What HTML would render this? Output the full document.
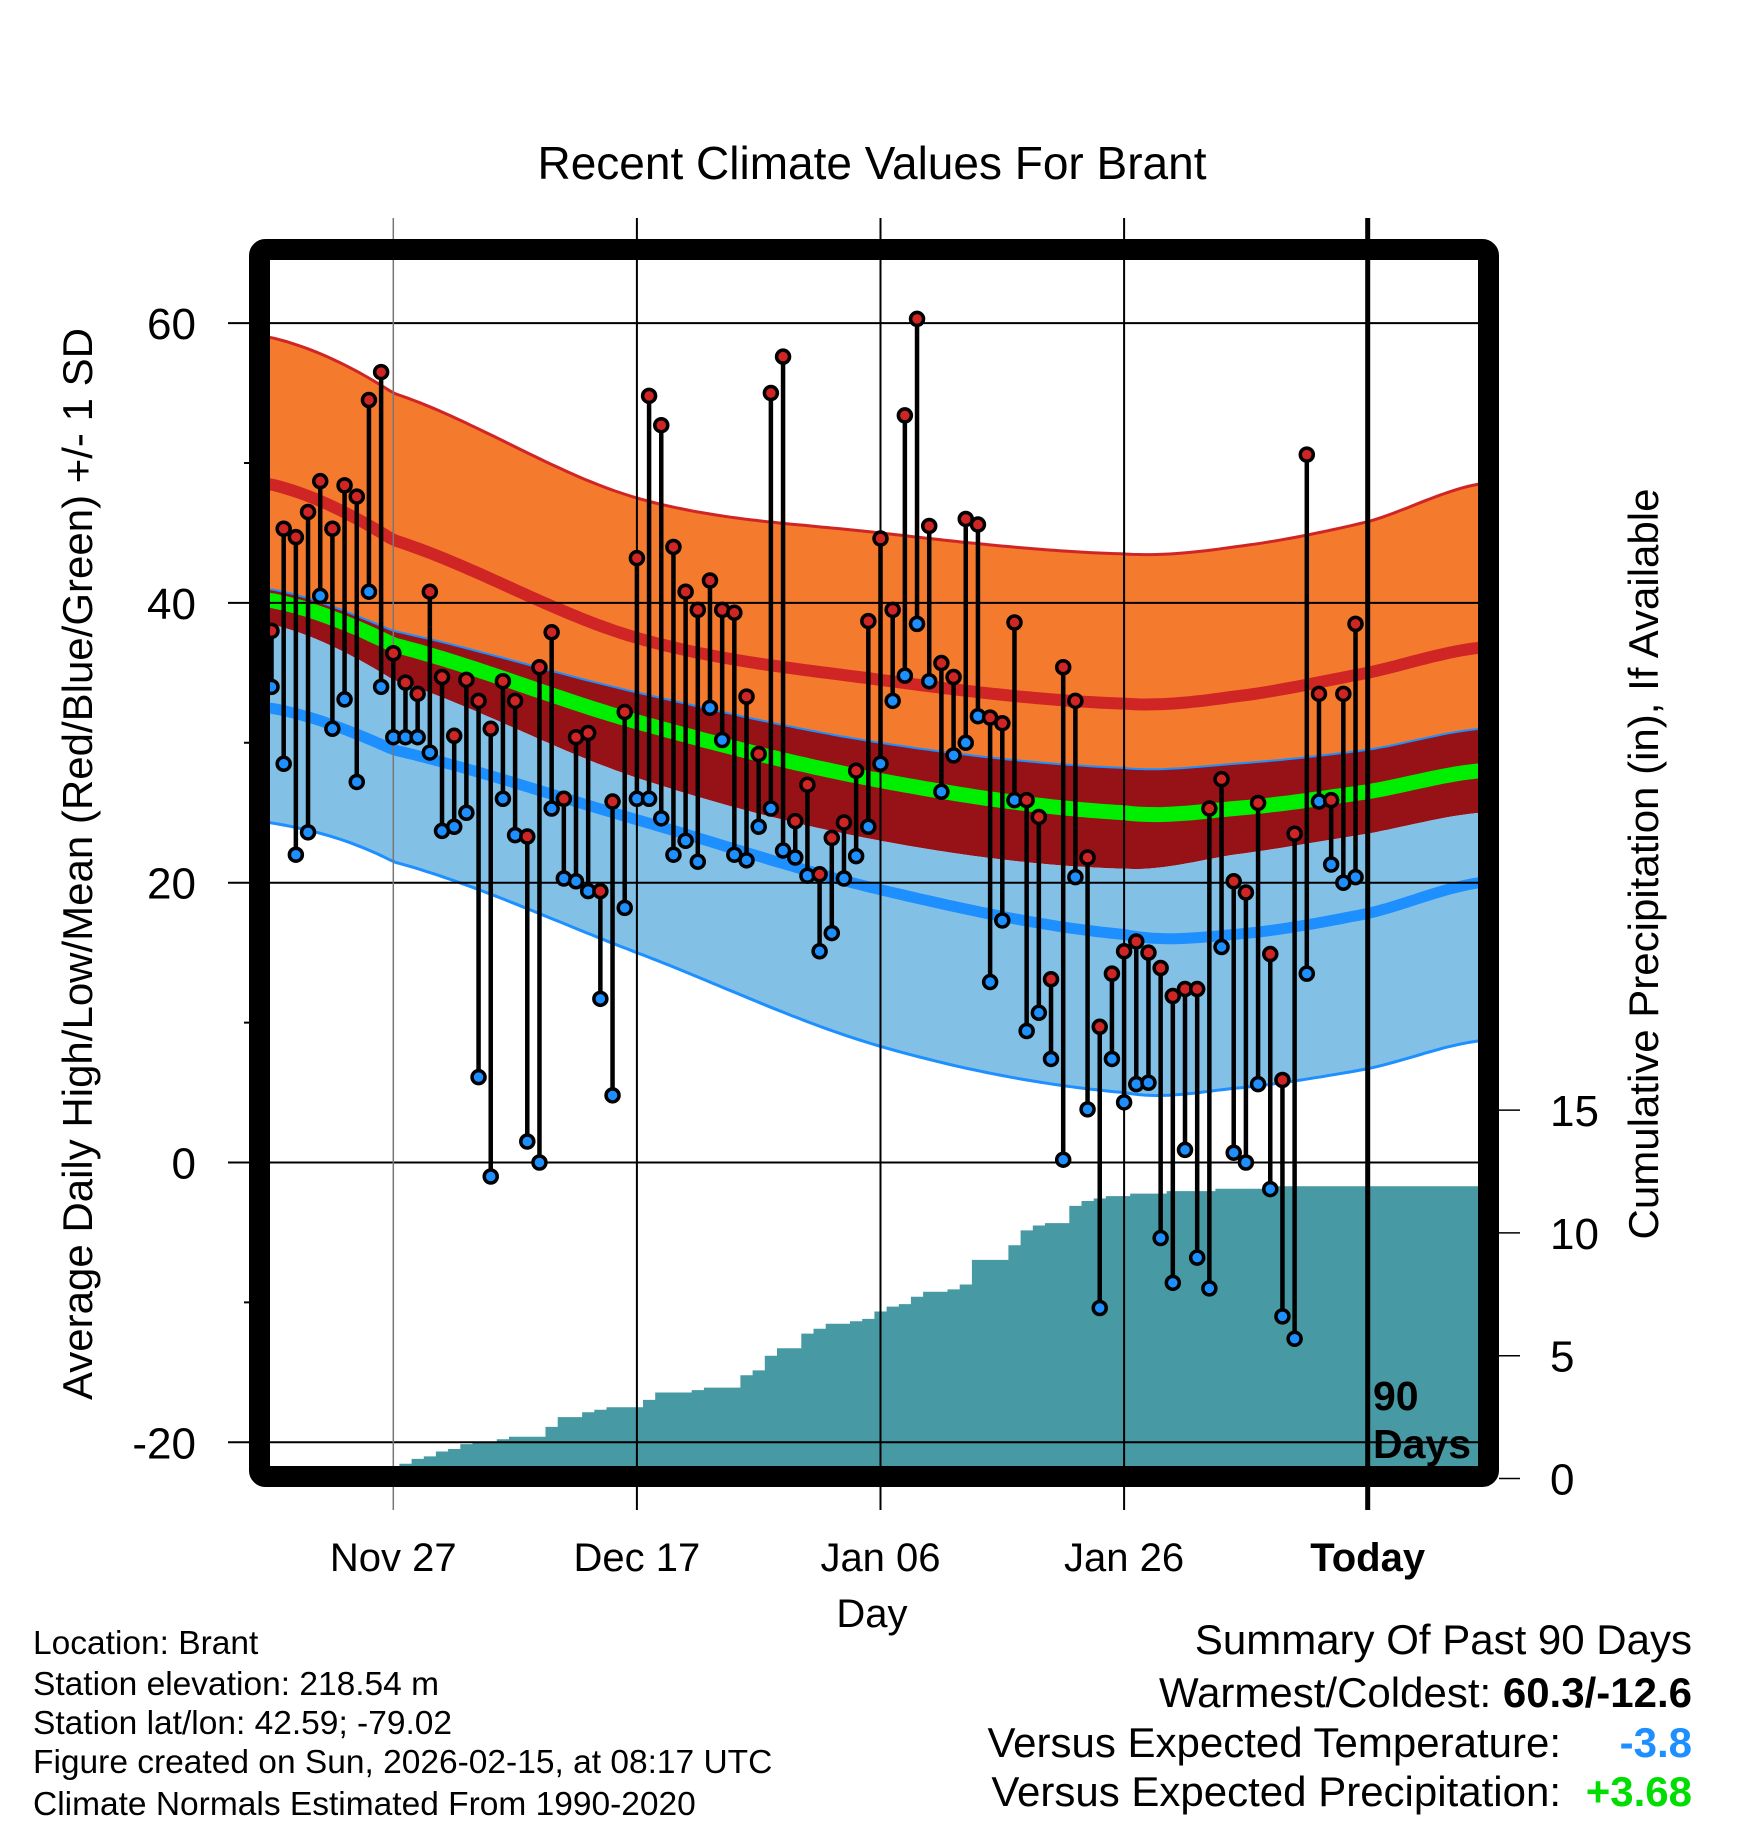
<!DOCTYPE html>
<html><head><meta charset="utf-8">
<style>
html,body{margin:0;padding:0;background:#fff;}
svg{display:block;font-family:"Liberation Sans",Arial,sans-serif;}
</style></head>
<body>
<svg id="chart" width="1748" height="1828" viewBox="0 0 1748 1828" xmlns="http://www.w3.org/2000/svg">
<rect width="1748" height="1828" fill="#fff"/>
<defs><clipPath id="plotclip"><rect x="270" y="260" width="1208" height="1209"/></clipPath></defs>
<g id="bands" clip-path="url(#plotclip)"></g>
<g id="precip" clip-path="url(#plotclip)"></g>
<g id="grid"></g>
<g id="marks" clip-path="url(#plotclip)"></g>
<rect x="259.5" y="249.5" width="1229" height="1227" rx="6" fill="none" stroke="#000" stroke-width="21"/>
<g id="labels"></g>
<text x="872" y="179" font-size="46" text-anchor="middle">Recent Climate Values For Brant</text>
<text transform="translate(92,864) rotate(-90)" font-size="42" text-anchor="middle">Average Daily High/Low/Mean (Red/Blue/Green) +/- 1 SD</text>
<text transform="translate(1658,864) rotate(-90)" font-size="42" text-anchor="middle">Cumulative Precipitation (in), If Available</text>
<text x="872" y="1627" font-size="40" text-anchor="middle">Day</text>
<text x="1373" y="1410" font-size="41" font-weight="bold">90</text>
<text x="1373" y="1458" font-size="41" font-weight="bold">Days</text>
<g font-size="33.5">
<text x="33" y="1654">Location: Brant</text>
<text x="33" y="1695">Station elevation: 218.54 m</text>
<text x="33" y="1734">Station lat/lon: 42.59; -79.02</text>
<text x="33" y="1773">Figure created on Sun, 2026-02-15, at 08:17 UTC</text>
<text x="33" y="1815">Climate Normals Estimated From 1990-2020</text>
</g>
<g font-size="42" text-anchor="end">
<text x="1692" y="1654">Summary Of Past 90 Days</text>
<text x="1692" y="1707">Warmest/Coldest: <tspan font-weight="bold">60.3/-12.6</tspan></text>
<text x="1561" y="1757">Versus Expected Temperature:</text>
<text x="1692" y="1757" fill="#1e8fff" font-weight="bold">-3.8</text>
<text x="1561" y="1806">Versus Expected Precipitation:</text>
<text x="1692" y="1806" fill="#00dd00" font-weight="bold">+3.68</text>
</g>
</svg>
<script>
const highs=[38,45.3,44.7,46.5,48.7,45.3,48.4,47.6,54.5,56.5,36.4,34.3,33.5,40.8,34.7,30.5,34.5,33,31,34.4,33,23.3,35.4,37.9,26,30.4,30.7,19.4,25.8,32.2,43.2,54.8,52.7,44,40.8,39.5,41.6,39.5,39.3,33.3,29.2,55,57.6,24.4,27,20.6,23.2,24.3,28,38.7,44.6,39.5,53.4,60.3,45.5,35.7,34.7,46,45.6,31.8,31.4,38.6,25.9,24.7,13.1,35.4,33,21.8,9.7,13.5,15.1,15.8,15,13.9,11.9,12.4,12.4,25.3,27.4,20.1,19.3,25.7,14.9,5.9,23.5,50.6,33.5,25.9,33.5,38.5];
const lows=[34,28.5,22,23.6,40.5,31,33.1,27.2,40.8,34,30.4,30.4,30.4,29.3,23.7,24,25,6.1,-1,26,23.4,1.5,0,25.3,20.3,20.1,19.4,11.7,4.8,18.2,26,26,24.6,22,23,21.5,32.5,30.2,22,21.6,24,25.3,22.3,21.8,20.5,15.1,16.4,20.3,21.9,24,28.5,33,34.8,38.5,34.4,26.5,29.1,30,31.9,12.9,17.3,25.9,9.4,10.7,7.4,0.2,20.4,3.8,-10.4,7.4,4.3,5.6,5.7,-5.4,-8.6,0.9,-6.8,-9,15.4,0.7,0,5.6,-1.9,-11,-12.6,13.5,25.8,21.3,20,20.4];
const precip=[0,0,0,0,0,0,0,0,0.1,0.5,0.5,0.6,0.8,0.9,1.1,1.2,1.4,1.5,1.5,1.6,1.7,1.7,1.7,2.1,2.5,2.5,2.7,2.8,2.9,2.9,2.9,3.2,3.5,3.5,3.5,3.6,3.7,3.7,3.7,4.2,4.4,5.0,5.3,5.3,5.9,6.1,6.3,6.3,6.4,6.5,6.8,7.0,7.1,7.4,7.6,7.6,7.7,7.9,8.9,8.9,8.9,9.5,10.1,10.3,10.4,10.4,11.1,11.3,11.4,11.5,11.5,11.6,11.6,11.6,11.7,11.7,11.7,11.7,11.8,11.8,11.8,11.8,11.9,11.9,11.9,11.9,11.9,11.9,11.9,11.9];
const normDays=[-0.2,10,30,50,70,79,90,99.2];
const hiTop=[59,55,47.5,45,43.5,44,45.8,48.5];
const hiMean=[48.5,44.5,37.5,34.5,32.8,33.3,35,36.8];
const loTop=[41,38,33.6,30,28.2,28.5,29.5,31];
const meanT=[40.2,37,31.5,27.3,25,25.3,26.5,28];
const hiBot=[38.5,34.5,27.5,23,21,22,23.5,25];
const loMean=[32.5,29.5,24.5,19.5,16.3,16.3,17.8,20];
const loBot=[24.3,21.5,15,8.3,5,5.3,6.7,8.7];
const yTicks=[60,40,20,0,-20];
const yMinor=[50,30,10,-10];
const pTicks=[0,5,10,15];
const xTickDays=[10,30,50,70,90];
const xTickLabels=["Nov 27","Dec 17","Jan 06","Jan 26","Today"];

const NS="http://www.w3.org/2000/svg";
const X=d=>271.5+d*12.18;
const Y=t=>1162.5-t*13.99;
const P=p=>1478.5-p*24.56;
function mk(tag,attrs,parent){const e=document.createElementNS(NS,tag);for(const k in attrs)e.setAttribute(k,attrs[k]);parent.appendChild(e);return e;}
function interp(arr,d){
  const n=normDays.length;let i=0;
  while(i<n-2&&d>normDays[i+1])i++;
  const t=Math.max(0,Math.min(1,(d-normDays[i])/(normDays[i+1]-normDays[i])));
  const p0=arr[Math.max(0,i-1)],p1=arr[i],p2=arr[i+1],p3=arr[Math.min(n-1,i+2)];
  const t2=t*t,t3=t2*t;
  return 0.5*((2*p1)+(-p0+p2)*t+(2*p0-5*p1+4*p2-p3)*t2+(-p0+3*p1-3*p2+p3)*t3);
}
function curvePts(arr){const pts=[];for(let d=-0.3;d<=99.4;d+=0.5)pts.push([X(d),Y(interp(arr,d))]);return pts;}
function str(pts){return pts.map(p=>p[0].toFixed(1)+","+p[1].toFixed(1)).join(" ");}
function band(top,bot,fill,name,g){
  const a=curvePts(top),b=curvePts(bot).reverse();
  const e=mk("polygon",{points:str(a.concat(b)),fill:fill},g);
  
  
}
function line(arr,color,w,name,g){
  const e=mk("polyline",{points:str(curvePts(arr)),fill:"none",stroke:color,"stroke-width":w},g);
  
  
}
const bands=document.getElementById("bands");
band(hiTop,loTop,"#f47a2e","high-sd-band",bands);
band(loTop,hiBot,"#961217","overlap-band",bands);
band(hiBot,loBot,"#82c0e6","low-sd-band",bands);
line(hiTop,"#d02525",3,"high-plus-sd-line",bands);
line(hiMean,"#d02525",12,"mean-high-line",bands);
line(loTop,"#1e8fff",2,"low-plus-sd-line",bands);
line(meanT,"#00ee00",15,"mean-line",bands);
line(loMean,"#1e8fff",11,"mean-low-line",bands);
line(loBot,"#1e8fff",3,"low-minus-sd-line",bands);

const pg=document.getElementById("precip");
let pp=[[X(-0.6),P(0)]];
for(let i=0;i<precip.length;i++){const x0=X(i-0.5),x1=X(i+0.5);pp.push([x0,P(precip[i])]);pp.push([x1,P(precip[i])]);}
pp.push([1480,P(precip[precip.length-1])]);pp.push([1480,P(0)]);
const pa=mk("polygon",{points:str(pp),fill:"#4799a3"},pg);



const grid=document.getElementById("grid");
yTicks.forEach(t=>{
  const e=mk("line",{x1:228,x2:1478,y1:Y(t),y2:Y(t),stroke:"#000","stroke-width":2},grid);
  
  
});
yMinor.forEach(t=>{
  const e=mk("line",{x1:244,x2:262,y1:Y(t),y2:Y(t),stroke:"#000","stroke-width":2},grid);
  
  
});
xTickDays.forEach((d,i)=>{
  const today=i===xTickDays.length-1;
  const e=mk("line",{x1:X(d),x2:X(d),y1:218,y2:1510,stroke:today?"#000":(i===0?"#777":"#000"),"stroke-width":today?5:(i===0?1.5:2)},grid);
  
  
});
pTicks.forEach(p=>{
  const e=mk("line",{x1:1499,x2:1520,y1:P(p),y2:P(p),stroke:"#000","stroke-width":1.5},grid);
  
  
});

const mg=document.getElementById("marks");
for(let i=0;i<highs.length;i++){
  const x=X(i);
  const s=mk("line",{x1:x,x2:x,y1:Y(highs[i]),y2:Y(lows[i]),stroke:"#000","stroke-width":4.5},mg);
  
  
}
for(let i=0;i<highs.length;i++){
  const x=X(i);
  const h=mk("circle",{cx:x,cy:Y(highs[i]),r:6.5,fill:"#d02525",stroke:"#000","stroke-width":3.5},mg);
  
  
  const l=mk("circle",{cx:x,cy:Y(lows[i]),r:6.5,fill:"#1e8fff",stroke:"#000","stroke-width":3.5},mg);
  
  
}

const lg=document.getElementById("labels");
yTicks.forEach(t=>{
  const e=mk("text",{x:196,y:Y(t)+16,"font-size":44,"text-anchor":"end"},lg);e.textContent=String(t);
  
  
});
pTicks.forEach(p=>{
  const e=mk("text",{x:1550,y:P(p)+16,"font-size":44},lg);e.textContent=String(p);
  
  
});
xTickDays.forEach((d,i)=>{
  const e=mk("text",{x:X(d),y:1571,"font-size":40,"text-anchor":"middle"},lg);e.textContent=xTickLabels[i];
  if(i===xTickDays.length-1)e.setAttribute("font-weight","bold");
  
  
});
</script>
</body></html>
